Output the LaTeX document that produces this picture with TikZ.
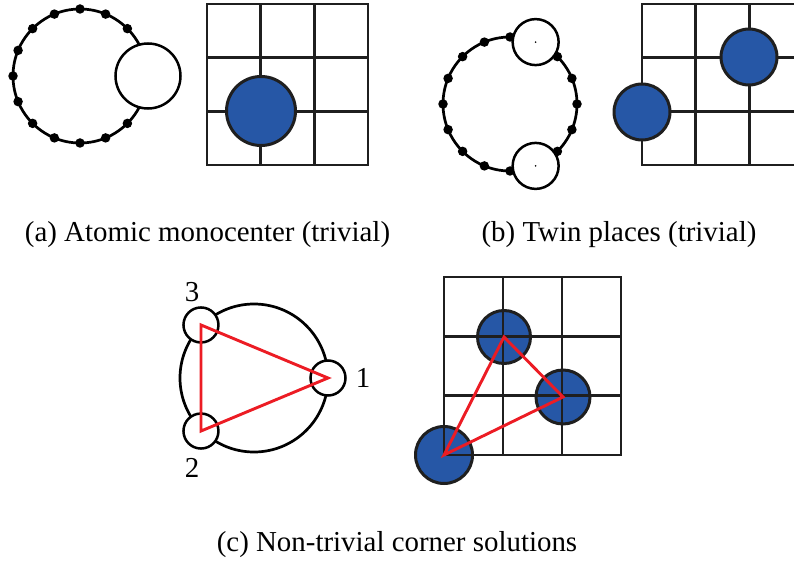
\documentclass[tikz,border=0pt]{standalone}
\usepackage{fontspec}
\setmainfont{Liberation Serif}
\usepackage{tikz}
\usetikzlibrary{positioning,calc}
\definecolor{tokenblue}{RGB}{38,87,166}
\definecolor{linkred}{RGB}{236,28,36}

\begin{document}
\begin{tikzpicture}[
  x=1bp, y=-1bp,
  ring/.style={circle, draw, line width=2.7bp, inner sep=0pt, outer sep=0pt},
  bead/.style={circle, fill, inner sep=0pt, minimum size=9.5bp},
  place/.style={circle, draw, fill=white, line width=2.5bp, inner sep=0pt},
  token/.style={circle, draw=black!88, fill=tokenblue, line width=3bp, inner sep=0pt},
  gridline/.style={draw=black!88, line width=2.8bp, line cap=rect},
  link/.style={draw=linkred, line width=2.9bp},
  tag/.style={font=\fontsize{28.9bp}{34bp}\selectfont, inner sep=0pt},
  caption/.style={font=\fontsize{28.9bp}{34bp}\selectfont, anchor=base, inner sep=0pt}
]
\useasboundingbox (0,0) rectangle (794,563);
\clip (0,0) rectangle (794,563);

% (a) atomic monocenter
\node[ring, minimum size=134bp] (ringA) at (80,76) {};
\foreach \a [count=\i] in {45,67.5,...,315}
  \node[bead] (beadA\i) at ($(ringA)+(\a:67)$) {};
\node[place, minimum size=65bp] (placeA) at (148,76) {};

\draw[gridline] (207,4) rectangle (368,165);
\foreach \k in {1,2} {
  \draw[gridline] (207+53.67*\k,4) -- (207+53.67*\k,165);
  \draw[gridline] (207,4+53.67*\k) -- (368,4+53.67*\k);
}
\node[token, minimum size=69bp] (tokenA) at (261,111) {};

\node[caption] (capA) at (207.5,241) {(a) Atomic monocenter (trivial)};

% (b) twin places
\node[ring, minimum size=134bp] (ringB) at (510,104) {};
\foreach \a [count=\i] in {0,22.5,45,90,112.5,135,157.5,180,202.5,225,247.5,270,315,337.5}
  \node[bead] (beadB\i) at ($(ringB)+(\a:67)$) {};
\node[place, minimum size=46bp] (placeBt) at ($(ringB)+(-67.5:67)$) {};
\node[place, minimum size=46bp] (placeBb) at ($(ringB)+(67.5:67)$) {};
\fill (placeBt) circle (0.9bp) (placeBb) circle (0.9bp);

\draw[gridline] (642,4) rectangle (803,165);
\foreach \k in {1,2} {
  \draw[gridline] (642+53.67*\k,4) -- (642+53.67*\k,165);
  \draw[gridline] (642,4+53.67*\k) -- (803,4+53.67*\k);
}
\node[token, minimum size=56bp] (tokenB1) at (749,57) {};
\node[token, minimum size=56bp] (tokenB2) at (642,112) {};

\node[caption] (capB) at (619,241) {(b) Twin places (trivial)};

% (c) non-trivial corner solutions
\node[ring, minimum size=148bp] (ringC) at (254,378) {};
\node[place, minimum size=35bp] (place1) at ($(ringC)+(0:74)$) {};
\node[place, minimum size=35bp] (place3) at ($(ringC)+(135:75)$) {};
\node[place, minimum size=35bp] (place2) at ($(ringC)+(225:75)$) {};
\draw[link] (place1.center) -- (place3.center) -- (place2.center) -- cycle;
\node[tag, right=9bp of place1] (tag1) {1};
\node[tag] (tag3) at (192,292) {3};
\node[tag] (tag2) at (192,468) {2};

\node[token, minimum size=53bp] (tokenC2) at (504,337) {};
\node[token, minimum size=54bp] (tokenC3) at (563,397) {};
\node[token, minimum size=57bp] (tokenC1) at (444,455) {};
\draw[gridline] (444,277) rectangle (621,455);
\foreach \k in {1,2} {
  \draw[gridline] (444+59*\k,277) -- (444+59*\k,455);
  \draw[gridline] (444,277+59.3*\k) -- (621,277+59.3*\k);
}
\draw[link] (tokenC1.center) -- (tokenC2.center) -- (tokenC3.center) -- cycle;

\node[caption] (capC) at (397,551) {(c) Non-trivial corner solutions};
\end{tikzpicture}
\end{document}
